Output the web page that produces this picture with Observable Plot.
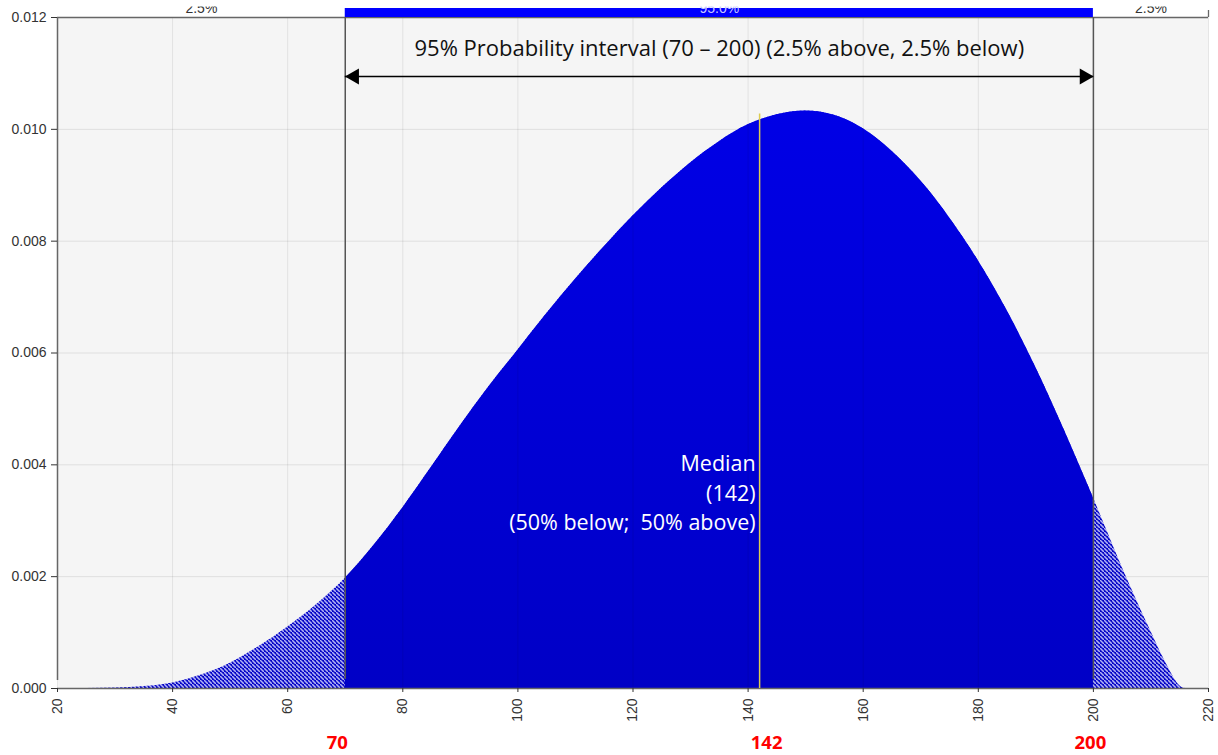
<!DOCTYPE html>
<html>
<head>
<meta charset="utf-8">
<script src="https://cdn.jsdelivr.net/npm/d3@7"></script>
<script src="https://cdn.jsdelivr.net/npm/@observablehq/plot@0.6"></script>
<style>
  html, body { margin: 0; padding: 0; background: #fff; }
  #chart { width: 1218px; height: 755px; }
  #chart svg { clip-path: inset(6.5px 0 0 0); }
</style>
</head>
<body>
<div id="chart"></div>
<script>
// ---- data ----
const xValues = [20, 25, 30, 35, 40, 45, 50, 55, 60, 65, 70, 75, 80, 85, 90, 95, 100, 105, 110, 115, 120, 125, 130, 135, 140, 145, 150, 155, 160, 165, 170, 175, 180, 185, 190, 195, 200, 205, 210, 212, 213, 214, 215, 216, 220];
const densityValues = [0, 0.000002, 0.00001, 0.000035, 0.0001, 0.00024, 0.00045, 0.00075, 0.0011, 0.0015, 0.00197, 0.00256, 0.00323, 0.00396, 0.0047, 0.0054, 0.00605, 0.0067, 0.00732, 0.0079, 0.00845, 0.00895, 0.0094, 0.00978, 0.01008, 0.01026, 0.01033, 0.01025, 0.01001, 0.00961, 0.00908, 0.00842, 0.00765, 0.00676, 0.00574, 0.00461, 0.00341, 0.00217, 0.00102, 0.00058, 0.00038, 0.00019, 0.00005, 0, 0];
const xTicks = [20, 40, 60, 80, 100, 120, 140, 160, 180, 200, 220];
const yTicks = [0, 0.002, 0.004, 0.006, 0.008, 0.010, 0.012];
const intervalLow = 70;
const intervalHigh = 200;
const median = 142;
const medianDensity = 0.01022;
const stripLabels = [
  {x1: 20, x2: 70, label: "2.5%"},
  {x1: 70, x2: 200, label: "95.0%"},
  {x1: 200, x2: 220, label: "2.5%"}
];
const titleText = "95% Probability interval (70 \u2013 200) (2.5% above, 2.5% below)";
const medianText = "Median\n(142)\n(50% below;  50% above)";

const data = xValues.map((x, i) => ({x, y: densityValues[i]}));
const yTop = yTicks[yTicks.length - 1];

const textFont = "'Open Sans', sans-serif";

const chart = Plot.plot({
  width: 1218,
  height: 755,
  marginLeft: 57,
  marginRight: 10,
  marginTop: 17,
  marginBottom: 67,
  style: {fontFamily: "'Liberation Sans', Arial, sans-serif", fontSize: "14px", color: "#333", background: "#fff"},
  x: {domain: [20, 220]},
  y: {domain: [0, yTop]},
  marks: [
    Plot.frame({fill: "#f5f5f5", stroke: null}),
    Plot.gridY(yTicks, {stroke: "#000", strokeOpacity: 0.09}),
    // whole distribution hatched (tails), then the 95% interval solid (clipped below)
    Plot.areaY(data, {x: "x", y: "y", fill: "url(#hatch)", curve: "monotone-x"}),
    Plot.areaY(data, {x: "x", y: "y", fill: "url(#blueGrad)", curve: "monotone-x"}),
    Plot.gridX(xTicks, {stroke: "#000", strokeOpacity: 0.08}),
    // top strip
    Plot.ruleY([yTop], {x1: 20, x2: 220, stroke: "#666", strokeWidth: 1.3}),
    Plot.rect([stripLabels[1]], {x1: "x1", x2: "x2", y1: yTop, y2: yTop, insetTop: -9, fill: "#0000ff"}),
    Plot.ruleX([20], {y1: 0, y2: yTop, insetTop: -8, stroke: "#666", strokeWidth: 1.5}),
    Plot.ruleX([220], {y1: yTop, y2: yTop, insetTop: -7, stroke: "#666", strokeWidth: 1.3}),
    Plot.ruleY([0], {x1: 20, x2: 220, stroke: "#666", strokeWidth: 1.5}),
    // interval bounds
    Plot.ruleX([intervalLow, intervalHigh], {y1: 0, y2: yTop, insetTop: -9, stroke: "#555", strokeWidth: 1.5}),
    // median line
    Plot.ruleX([median], {y1: 0, y2: medianDensity, insetBottom: 3, stroke: "#dccb50", strokeWidth: 1.5}),
    Plot.text([medianText], {x: median, y: 0.00347, text: d => d, textAnchor: "end", dx: -4, dy: -3, lineHeight: 1.37, fill: "#fff", fontSize: 21.5, fontFamily: textFont}),
    // arrow
    Plot.ruleY([yTop], {x1: intervalLow, x2: intervalHigh, dy: 59, stroke: "#000", strokeWidth: 1.5}),
    Plot.dot([intervalLow], {x: d => d, y: yTop, dy: 59, dx: 9, symbol: "triangle", r: 6, rotate: -90, fill: "#000", stroke: null}),
    Plot.dot([intervalHigh], {x: d => d, y: yTop, dy: 59, dx: -9, symbol: "triangle", r: 6, rotate: 90, fill: "#000", stroke: null}),
    Plot.text([titleText], {x: (intervalLow + intervalHigh) / 2, y: yTop, dy: 31, text: d => d, fill: "#111", fontSize: 22, fontFamily: textFont}),
    // strip labels (clipped at top like the reference)
    Plot.text(stripLabels, {x: d => (d.x1 + d.x2) / 2, y: yTop, dy: -9, text: "label", fill: (d, i) => i === 1 ? "#c8c8ff" : "#333", fontSize: 14}),
    // axes
    Plot.axisY({ticks: yTicks, tickFormat: ".3f", tickSize: 6, tickPadding: 5, label: null, fontSize: 14}),
    Plot.axisX({ticks: xTicks, tickFormat: d => String(d), tickRotate: -90, tickSize: 4, tickPadding: 6, label: null, fontSize: 14}),
    // red value labels
    Plot.text([intervalLow], {x: d => d, y: 0, dy: 55, dx: -8, text: d => String(d), fill: "#ff0000", fontWeight: "bold", fontSize: 18.5, fontFamily: textFont}),
    Plot.text([median], {x: d => d, y: 0, dy: 55, dx: 7, text: d => String(d), fill: "#ff0000", fontWeight: "bold", fontSize: 18.5, fontFamily: textFont}),
    Plot.text([intervalHigh], {x: d => d, y: 0, dy: 55, dx: -3, text: d => String(d), fill: "#ff0000", fontWeight: "bold", fontSize: 18.5, fontFamily: textFont})
  ]
});

// pattern, gradient and interval clip, positioned through Plot's x scale
const xs = chart.scale("x");
const defs = d3.create("svg:defs");
const pat = defs.append("pattern").attr("id", "hatch").attr("patternUnits", "userSpaceOnUse").attr("width", 4).attr("height", 4);
pat.append("rect").attr("width", 4).attr("height", 4).attr("fill", "#0a0ac8");
pat.append("path").attr("d", "M-1,-1 l2,2 M0,0 l4,4 M3,3 l2,2").attr("stroke", "#b4b4f4").attr("stroke-width", 1.5);
const grad = defs.append("linearGradient").attr("id", "blueGrad").attr("x1", 0).attr("y1", 0).attr("x2", 0).attr("y2", 1);
grad.append("stop").attr("offset", "0%").attr("stop-color", "#0000e6");
grad.append("stop").attr("offset", "100%").attr("stop-color", "#0000c6");
const x0 = xs.apply(intervalLow), x1 = xs.apply(intervalHigh);
defs.append("clipPath").attr("id", "intervalClip")
  .append("rect").attr("x", x0).attr("y", 0).attr("width", x1 - x0).attr("height", 755);
chart.insertBefore(defs.node(), chart.firstChild);
const areas = chart.querySelectorAll('g[aria-label="area"]');
if (areas.length > 1) areas[1].setAttribute("clip-path", "url(#intervalClip)");

document.getElementById("chart").appendChild(chart);
</script>
</body>
</html>
